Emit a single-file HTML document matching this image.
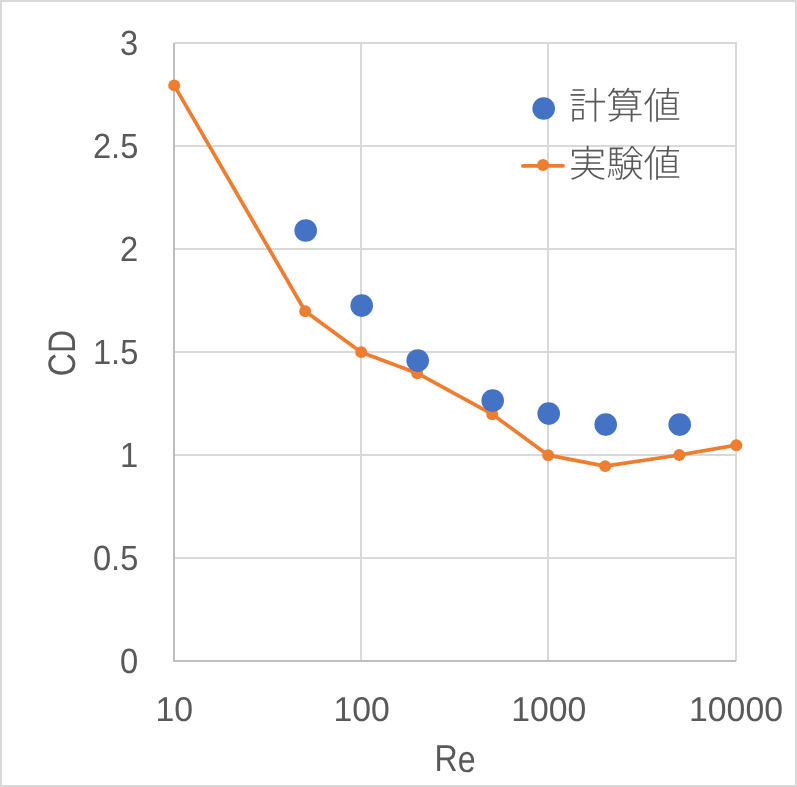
<!DOCTYPE html>
<html lang="ja"><head><meta charset="utf-8"><title>CD - Re</title>
<style>
html,body{margin:0;padding:0;background:#fff;}
body{width:797px;height:787px;overflow:hidden;}
svg{display:block;}
.t{font-family:"Liberation Sans",sans-serif;fill:#595959;text-rendering:geometricPrecision;}
.j{font-family:"Liberation Sans","Noto Sans CJK JP",sans-serif;font-weight:300;fill:#595959;text-rendering:geometricPrecision;}
</style></head><body>
<svg width="797" height="787" viewBox="0 0 797 787">
<rect x="0" y="0" width="797" height="787" fill="#fff"/>
<rect x="1" y="1" width="795" height="785" fill="none" stroke="#d9d9d9" stroke-width="2"/>
<g stroke="#d9d9d9" stroke-width="2" fill="none">
<line x1="174.0" y1="43.0" x2="737.0" y2="43.0"/>
<line x1="174.0" y1="146.0" x2="737.0" y2="146.0"/>
<line x1="174.0" y1="249.0" x2="737.0" y2="249.0"/>
<line x1="174.0" y1="352.0" x2="737.0" y2="352.0"/>
<line x1="174.0" y1="455.0" x2="737.0" y2="455.0"/>
<line x1="174.0" y1="558.0" x2="737.0" y2="558.0"/>
<line x1="361.0" y1="42.0" x2="361.0" y2="661.0"/>
<line x1="548.0" y1="42.0" x2="548.0" y2="661.0"/>
<line x1="736.0" y1="42.0" x2="736.0" y2="661.0"/>
</g>
<g stroke="#bfbfbf" stroke-width="2" fill="none">
<line x1="174.0" y1="43.0" x2="174.0" y2="662.0"/>
<line x1="173.0" y1="661.0" x2="736.0" y2="661.0"/>
</g>
<text class="t" x="138.3" y="55" font-size="35" text-anchor="end" textLength="18.2" lengthAdjust="spacingAndGlyphs">3</text>
<text class="t" x="138.3" y="158" font-size="35" text-anchor="end" textLength="45.4" lengthAdjust="spacingAndGlyphs">2.5</text>
<text class="t" x="138.3" y="261" font-size="35" text-anchor="end" textLength="18.2" lengthAdjust="spacingAndGlyphs">2</text>
<text class="t" x="138.3" y="364" font-size="35" text-anchor="end" textLength="45.4" lengthAdjust="spacingAndGlyphs">1.5</text>
<text class="t" x="138.3" y="467" font-size="35" text-anchor="end" textLength="18.2" lengthAdjust="spacingAndGlyphs">1</text>
<text class="t" x="138.3" y="570" font-size="35" text-anchor="end" textLength="45.4" lengthAdjust="spacingAndGlyphs">0.5</text>
<text class="t" x="138.3" y="673" font-size="35" text-anchor="end" textLength="18.2" lengthAdjust="spacingAndGlyphs">0</text>
<text class="t" x="174.2" y="721" font-size="34.4" text-anchor="middle" textLength="37.6" lengthAdjust="spacingAndGlyphs">10</text>
<text class="t" x="361.7" y="721" font-size="34.4" text-anchor="middle" textLength="56.3" lengthAdjust="spacingAndGlyphs">100</text>
<text class="t" x="548.8" y="721" font-size="34.4" text-anchor="middle" textLength="75.1" lengthAdjust="spacingAndGlyphs">1000</text>
<text class="t" x="736" y="721" font-size="34.4" text-anchor="middle" textLength="93.9" lengthAdjust="spacingAndGlyphs">10000</text>
<text class="t" transform="translate(455,771.5) rotate(0.03)" font-size="37.5" text-anchor="middle" textLength="41" lengthAdjust="spacingAndGlyphs">Re</text>
<text class="t" transform="translate(74.6,353.0) rotate(-90)" font-size="38.3" text-anchor="middle" textLength="46.3" lengthAdjust="spacingAndGlyphs">CD</text>
<polyline points="174.2,85.4 305.2,311.2 361.2,352.15 417.2,373.2 492.2,414.2 548.2,455.2 605.2,466.15 679.3,455.0 736.3,445.2" fill="none" stroke="#ed7d31" stroke-width="3.75" stroke-linejoin="round" stroke-linecap="round"/>
<g fill="#ed7d31">
<circle cx="174.2" cy="85.4" r="5.95"/>
<circle cx="305.2" cy="311.2" r="5.95"/>
<circle cx="361.2" cy="352.15" r="5.95"/>
<circle cx="417.2" cy="373.2" r="5.95"/>
<circle cx="492.2" cy="414.2" r="5.95"/>
<circle cx="548.2" cy="455.2" r="5.95"/>
<circle cx="605.2" cy="466.15" r="5.95"/>
<circle cx="679.3" cy="455.0" r="5.95"/>
<circle cx="736.3" cy="445.2" r="5.95"/>
</g>
<g fill="#4472c4">
<circle cx="305.7" cy="230.55" r="11.3"/>
<circle cx="361.7" cy="305.6" r="11.3"/>
<circle cx="417.7" cy="360.6" r="11.3"/>
<circle cx="492.7" cy="400.6" r="11.3"/>
<circle cx="548.7" cy="413.6" r="11.3"/>
<circle cx="605.7" cy="424.6" r="11.3"/>
<circle cx="679.7" cy="424.6" r="11.3"/>
</g>
<circle cx="543.7" cy="108.55" r="11.3" fill="#4472c4"/>
<line x1="522.9" y1="165.9" x2="563.0" y2="165.9" stroke="#ed7d31" stroke-width="3.75" stroke-linecap="round"/>
<circle cx="543.05" cy="165.0" r="5.95" fill="#ed7d31"/>
<text class="j" x="569" y="119" font-size="37.3">計算値</text>
<text class="j" x="569" y="177" font-size="37.3">実験値</text>
</svg>
</body></html>
